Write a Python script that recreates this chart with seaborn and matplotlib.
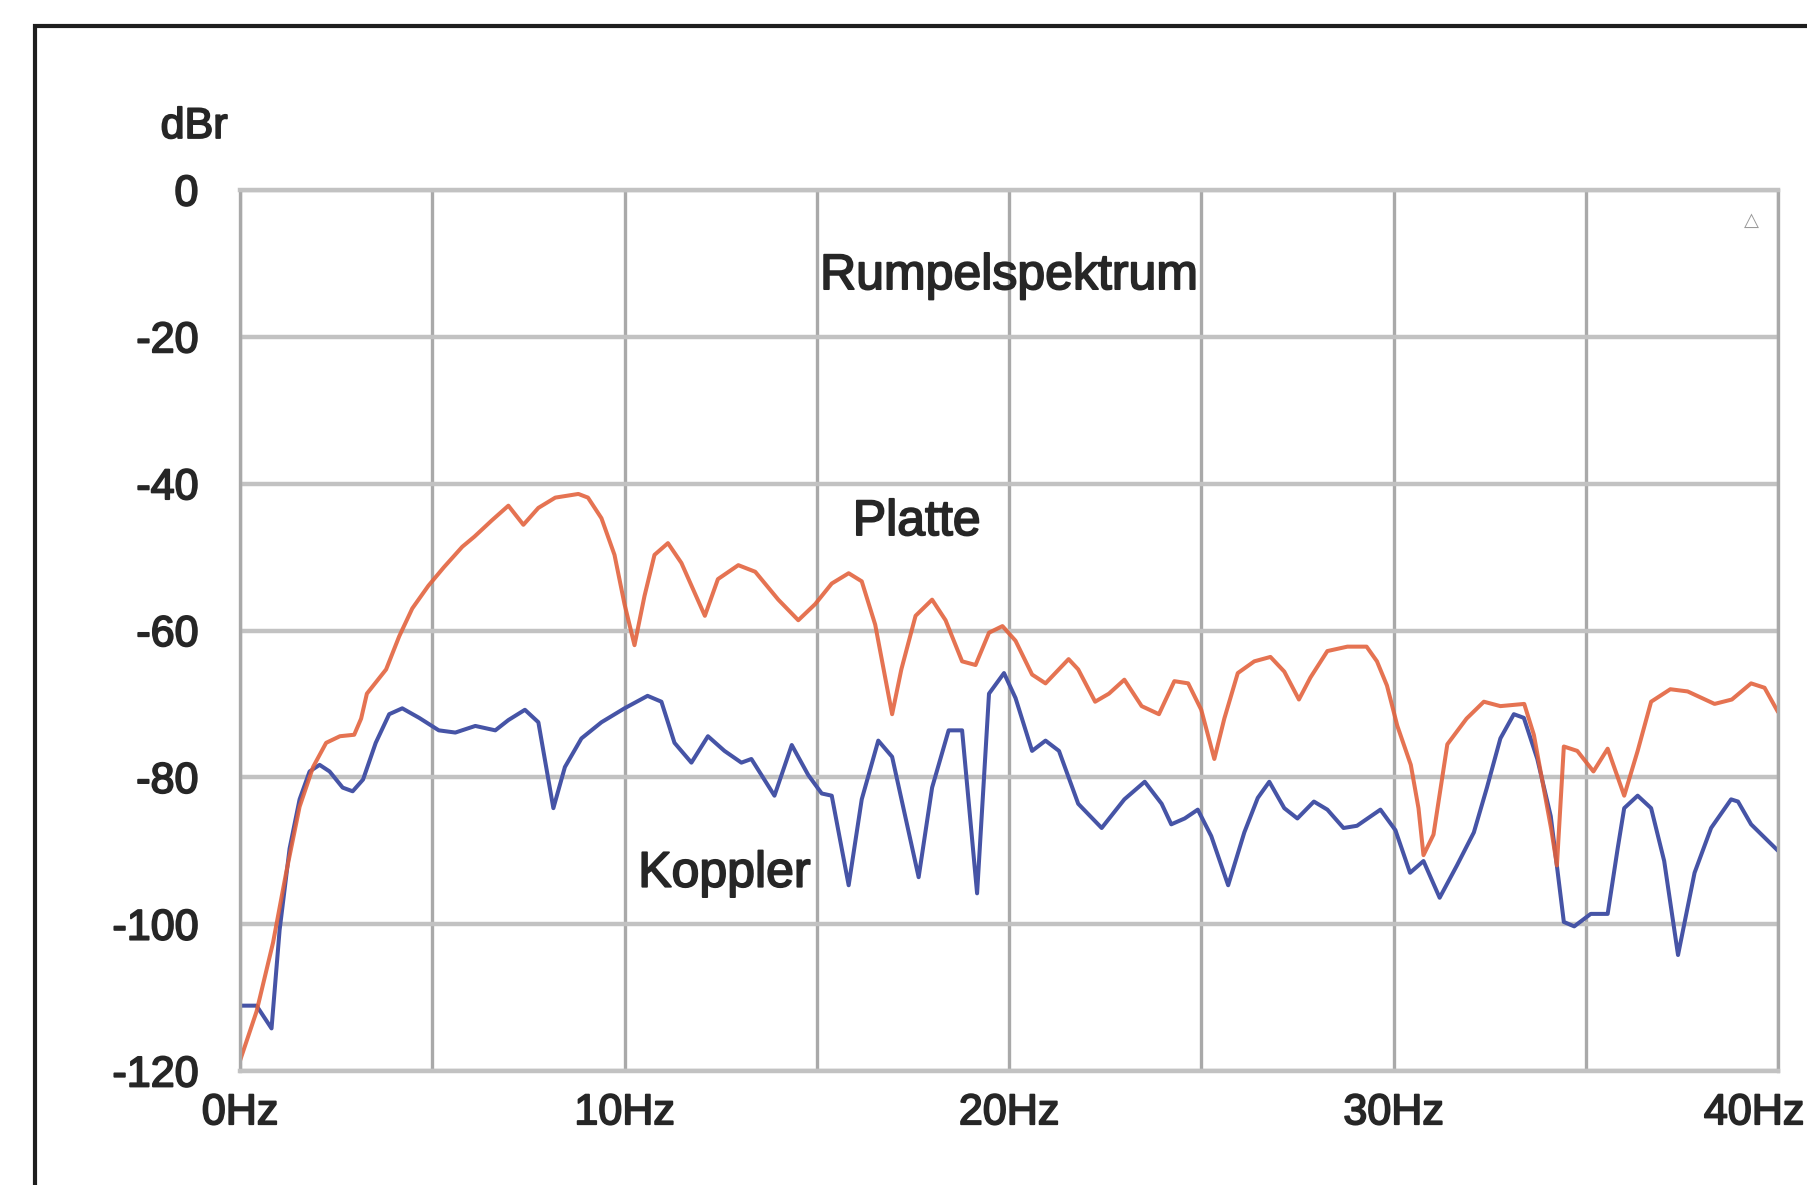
import matplotlib
matplotlib.use("Agg")
import matplotlib.pyplot as plt
import matplotlib.patches as mpatches
import matplotlib.patheffects as pe
from matplotlib.transforms import ScaledTranslation
import pandas as pd
import seaborn as sns

# Platte (record) rumble spectrum
platte_hz = [0.0, 0.43, 0.86, 1.2, 1.55, 1.9, 2.24, 2.6, 2.97, 3.15, 3.3, 3.8, 4.14, 4.48,
             4.9, 5.3, 5.78, 6.1, 6.55, 6.98, 7.37, 7.76, 8.2, 8.8, 9.05, 9.4, 9.74, 10.0,
             10.26, 10.52, 10.78, 11.13, 11.48, 12.09, 12.43, 12.96, 13.4, 14.0, 14.52,
             14.96, 15.39, 15.83, 16.17, 16.52, 16.96, 17.2, 17.57, 18.0, 18.35, 18.78,
             19.13, 19.48, 19.83, 20.17, 20.6, 20.95, 21.55, 21.8, 22.24, 22.6, 23.0,
             23.45, 23.9, 24.3, 24.66, 25.0, 25.34, 25.6, 25.95, 26.38, 26.8, 27.16,
             27.54, 27.84, 28.28, 28.8, 29.3, 29.57, 29.83, 30.1, 30.45, 30.65, 30.78,
             31.04, 31.4, 31.9, 32.35, 32.78, 33.4, 33.65, 34.1, 34.25, 34.43, 34.78,
             35.2, 35.57, 36.0, 36.35, 36.7, 37.2, 37.65, 38.35, 38.8, 39.3, 39.65, 40.0]
platte_db = [-118.6, -111.9, -102.5, -93.0, -84.0, -78.6, -75.3, -74.4, -74.2, -72.0, -68.6,
             -65.3, -60.8, -57.0, -53.9, -51.4, -48.6, -47.2, -45.0, -43.0, -45.6, -43.3,
             -41.9, -41.4, -41.9, -44.7, -49.7, -56.4, -62.0, -55.3, -49.7, -48.1, -50.8,
             -58.0, -53.0, -51.1, -52.0, -55.8, -58.6, -56.4, -53.6, -52.2, -53.3, -59.2,
             -71.4, -65.3, -58.0, -55.8, -58.6, -64.2, -64.7, -60.3, -59.4, -61.4, -66.0,
             -67.2, -63.9, -65.3, -69.7, -68.6, -66.7, -70.3, -71.4, -66.9, -67.2, -70.8,
             -77.5, -72.0, -65.8, -64.2, -63.6, -65.6, -69.4, -66.4, -62.8, -62.2, -62.2,
             -64.2, -67.5, -73.0, -78.3, -84.2, -90.6, -87.8, -75.5, -72.0, -69.7, -70.3,
             -70.0, -74.2, -87.0, -92.0, -75.8, -76.4, -79.2, -76.1, -82.5, -76.4, -69.7,
             -68.0, -68.3, -70.0, -69.4, -67.2, -67.8, -71.1]

# Koppler (coupler) rumble spectrum
koppler_hz = [0.0, 0.43, 0.82, 1.03, 1.29, 1.55, 1.81, 2.07, 2.33, 2.67, 2.93, 3.2, 3.53,
              3.88, 4.22, 4.66, 5.17, 5.6, 6.12, 6.64, 6.98, 7.41, 7.76, 8.15, 8.45, 8.88,
              9.4, 10.0, 10.6, 10.96, 11.3, 11.74, 12.17, 12.6, 13.04, 13.3, 13.9, 14.35,
              14.78, 15.13, 15.39, 15.83, 16.17, 16.6, 16.96, 17.65, 18.0, 18.43, 18.78,
              19.17, 19.48, 19.87, 20.17, 20.6, 20.95, 21.3, 21.8, 22.41, 23.0, 23.53,
              23.97, 24.22, 24.57, 24.91, 25.26, 25.7, 26.12, 26.47, 26.77, 27.16, 27.5,
              27.93, 28.28, 28.7, 29.05, 29.66, 30.05, 30.43, 30.78, 31.2, 31.65, 32.09,
              32.43, 32.78, 33.13, 33.39, 33.74, 34.09, 34.43, 34.7, 35.13, 35.57, 35.83,
              36.0, 36.35, 36.7, 37.04, 37.4, 37.83, 38.26, 38.78, 38.96, 39.3, 40.0]
koppler_db = [-111.1, -111.1, -114.2, -100.8, -89.7, -83.0, -79.2, -78.3, -79.2, -81.4, -81.9,
              -80.3, -75.3, -71.4, -70.6, -71.9, -73.6, -73.9, -73.0, -73.6, -72.2, -70.8,
              -72.5, -84.2, -78.6, -74.7, -72.5, -70.6, -68.9, -69.7, -75.3, -78.0, -74.4,
              -76.4, -78.0, -77.5, -82.5, -75.6, -79.7, -82.2, -82.5, -94.7, -83.0, -75.0,
              -77.2, -93.6, -81.4, -73.6, -73.6, -95.8, -68.6, -65.8, -69.2, -76.4, -75.0,
              -76.4, -83.6, -86.9, -83.0, -80.6, -83.6, -86.4, -85.6, -84.4, -88.0, -94.7,
              -87.5, -82.8, -80.6, -84.2, -85.6, -83.3, -84.4, -86.9, -86.6, -84.4, -87.2,
              -93.0, -91.4, -96.4, -92.0, -87.5, -81.4, -74.7, -71.4, -71.9, -77.5, -85.3,
              -99.7, -100.3, -98.6, -98.6, -89.7, -84.2, -82.5, -84.2, -91.4, -104.2, -93.0,
              -86.9, -83.0, -83.3, -86.4, -90.0]

x_ticks = [0, 10, 20, 30, 40]
x_labels = ["0Hz", "10Hz", "20Hz", "30Hz", "40Hz"]
y_ticks = [0, -20, -40, -60, -80, -100, -120]

df = pd.concat([
    pd.DataFrame({"Hz": koppler_hz, "dBr": koppler_db, "Quelle": "Koppler"}),
    pd.DataFrame({"Hz": platte_hz, "dBr": platte_db, "Quelle": "Platte"}),
], ignore_index=True)

sns.set_theme(style="white")
plt.rcParams["font.family"] = ["Liberation Sans", "DejaVu Sans"]

text_col = "#262626"
heavy = [pe.withStroke(linewidth=1.3, foreground=text_col)]

fig = plt.figure(figsize=(18.07, 11.85), dpi=100)
ax = fig.add_axes([240 / 1807, 114 / 1185, 1538 / 1807, 881 / 1185])

sns.lineplot(data=df, x="Hz", y="dBr", hue="Quelle", sort=False, estimator=None,
             palette={"Koppler": "#4654a6", "Platte": "#e2603a"},
             linewidth=2.9, legend=False, ax=ax)
for ln in ax.lines:
    ln.set_solid_joinstyle("round")
    ln.set_solid_capstyle("round")
ax.lines[1].set_alpha(0.88)

ax.set_xlim(0, 40)
ax.set_ylim(-120, 0)
ax.set_xticks(x_ticks)
ax.set_xticklabels(x_labels)
ax.set_xticks([5, 15, 25, 35], minor=True)
ax.set_yticks(y_ticks)
ax.set_yticklabels([str(v) for v in y_ticks])
ax.set_xlabel("")
ax.set_ylabel("")

ax.grid(axis="x", which="both", color="#a9a9a9", linewidth=2.4)
ax.grid(axis="y", which="major", color="#c2c2c2", linewidth=3.2)
ax.set_axisbelow(True)
for side in ["left", "right"]:
    ax.spines[side].set_color("#a9a9a9")
    ax.spines[side].set_linewidth(2.4)
for side in ["top", "bottom"]:
    ax.spines[side].set_color("#c2c2c2")
    ax.spines[side].set_linewidth(3.2)

ax.tick_params(axis="both", which="both", length=0, labelsize=31, labelcolor=text_col)
ax.tick_params(axis="y", pad=30)
ax.tick_params(axis="x", pad=16)
for lab in ax.get_xticklabels() + ax.get_yticklabels():
    lab.set_path_effects(heavy)
# last x label sits a little to the left, as in the scan
last = ax.get_xticklabels()[-1]
last.set_transform(last.get_transform() + ScaledTranslation(-24 / 100, 0, fig.dpi_scale_trans))

for txt, xv, yv in [("Rumpelspektrum", 20.0, -13.5), ("Platte", 17.6, -47.0), ("Koppler", 12.6, -94.9)]:
    ax.text(xv, yv, txt, fontsize=36, color=text_col, ha="center", va="baseline", path_effects=heavy)
ax.text(0.983, 0.965, "\u25b3", transform=ax.transAxes, fontsize=14, color="#9a9a9a",
        ha="center", va="center", family="DejaVu Sans")

fig.text(194 / 1807, 1 - 127 / 1185, "dBr", fontsize=31, color=text_col, ha="center", va="center",
         path_effects=heavy)

# outer frame, cut off on the right and at the bottom like the scan
fig.add_artist(mpatches.Rectangle((35 / 1807, -0.2), 1.2, 1.2 - 26 / 1185, transform=fig.transFigure,
                                  fill=False, edgecolor="#1e1e1e", linewidth=3.0, clip_on=False))

fig.savefig("out.png", dpi=100)
